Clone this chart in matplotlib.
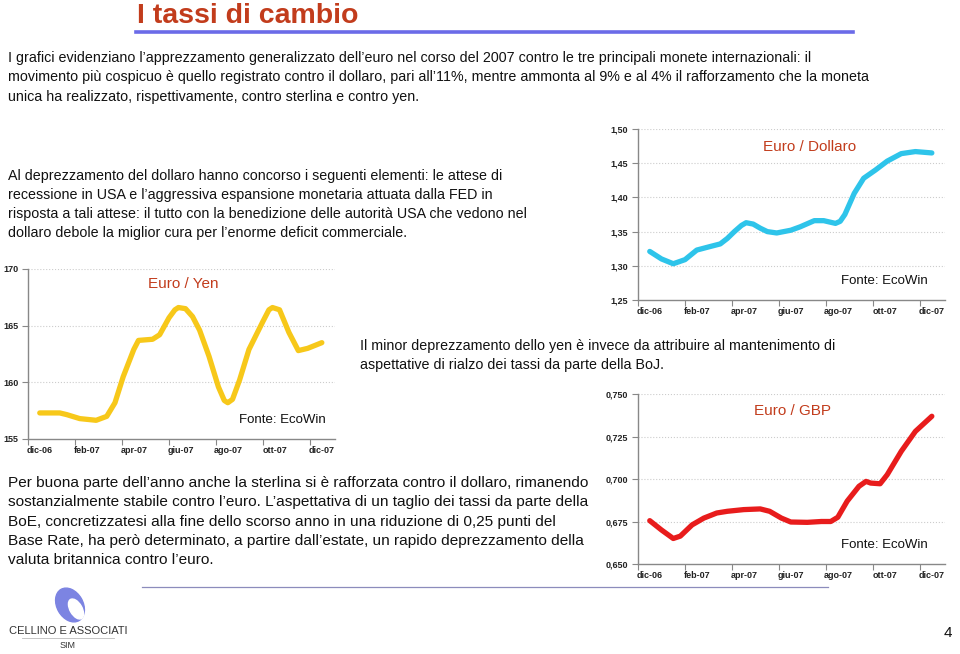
import matplotlib
matplotlib.use('Agg')
import matplotlib.pyplot as plt
from matplotlib.lines import Line2D
from matplotlib.patches import Ellipse

plt.rcParams['font.family'] = ['Liberation Sans', 'DejaVu Sans']

# month index: 0 = dic-06 ... 12 = dic-07
month_labels = ['dic-06', 'feb-07', 'apr-07', 'giu-07', 'ago-07', 'ott-07', 'dic-07']

usd_months = [0, 0.5, 1, 1.5, 2, 2.55, 3, 3.3, 3.6, 3.9, 4.1, 4.4, 4.7, 5, 5.4, 6, 6.4,
              7, 7.4, 7.9, 8.1, 8.3, 8.7, 9.1, 9.6, 10.1, 10.7, 11.3, 12]
usd_values = [1.321, 1.310, 1.303, 1.309, 1.323, 1.328, 1.332, 1.340, 1.350, 1.359,
              1.363, 1.361, 1.355, 1.350, 1.348, 1.352, 1.357, 1.366, 1.366, 1.362,
              1.365, 1.375, 1.406, 1.428, 1.440, 1.453, 1.464, 1.467, 1.465]

jpy_months = [0, 0.85, 1.15, 1.7, 2.4, 2.85, 3.2, 3.55, 4.0, 4.2, 4.8, 5.1, 5.5, 5.75,
              5.9, 6.2, 6.5, 6.8, 7.2, 7.6, 7.85, 8.0, 8.2, 8.5, 8.9, 9.5, 9.75, 9.9,
              10.2, 10.6, 11.0, 11.4, 12]
jpy_values = [157.3, 157.3, 157.15, 156.8, 156.65, 157.0, 158.2, 160.5, 162.9, 163.7,
              163.8, 164.2, 165.7, 166.4, 166.6, 166.5, 165.8, 164.6, 162.3, 159.6,
              158.4, 158.2, 158.5, 160.2, 162.9, 165.4, 166.4, 166.6, 166.4, 164.4,
              162.8, 163.0, 163.5]

gbp_months = [0, 0.5, 1.0, 1.3, 1.8, 2.3, 2.85, 3.3, 4.0, 4.7, 5.1, 5.6, 6.0, 6.7,
              7.3, 7.7, 8.0, 8.4, 8.9, 9.2, 9.4, 9.8, 10.1, 10.7, 11.3, 12]
gbp_values = [0.6755, 0.670, 0.665, 0.6664, 0.673, 0.677, 0.680, 0.681, 0.682, 0.6824,
              0.681, 0.677, 0.6747, 0.6745, 0.675, 0.675, 0.6775, 0.687, 0.6957, 0.6986,
              0.6976, 0.6972, 0.7025, 0.7163, 0.728, 0.7369]

usd_ticks = [1.25, 1.30, 1.35, 1.40, 1.45, 1.50]
jpy_ticks = [155, 160, 165, 170]
gbp_ticks = [0.650, 0.675, 0.700, 0.725, 0.750]

W, H = 960, 654
fig = plt.figure(figsize=(9.6, 6.54), dpi=100)


def fx(x):
    return x / W


def fy(y):
    return 1 - y / H


def px_axes(l, t, r, b):
    return fig.add_axes([fx(l), fy(b), (r - l) / W, (b - t) / H])


def small_chart(box, months, values, ticks, fmt, color, title, title_xy, fonte_xy):
    '''Draws one of the little EcoWin charts inside the pixel box given.'''
    ax = px_axes(*box)
    ax.plot(months, values, color=color, lw=3.8, solid_capstyle='round', solid_joinstyle='round')
    ax.set_xlim(-0.5, 12.56)
    ax.set_ylim(ticks[0], ticks[-1])
    ax.set_yticks(ticks)
    ax.set_yticklabels([fmt(t) for t in ticks], fontsize=6.5, fontweight='bold', color='#222222')
    ax.set_xticks([-0.5 + 2 * i for i in range(7)])
    ax.set_xticklabels([])
    ax.set_xticks([2 * i for i in range(7)], minor=True)
    ax.set_xticklabels(month_labels, minor=True, fontsize=6.5, fontweight='bold', color='#222222')
    ax.tick_params(axis='x', which='minor', length=0, pad=5)
    ax.tick_params(axis='x', which='major', length=4, color='#888888')
    ax.tick_params(axis='y', length=4, color='#888888', pad=3)
    for t in ticks[1:]:
        ax.axhline(t, color='#cccccc', lw=0.8, ls=':', zorder=0)
    for s in ['top', 'right']:
        ax.spines[s].set_visible(False)
    for s in ['left', 'bottom']:
        ax.spines[s].set_color('#888888')
        ax.spines[s].set_linewidth(1.0)
    fig.text(fx(title_xy[0]), fy(title_xy[1]), title, color='#c23c1c', fontsize=11,
             ha='center', va='center')
    fig.text(fx(fonte_xy[0]), fy(fonte_xy[1]), 'Fonte: EcoWin', color='#111111', fontsize=9.5,
             ha='center', va='center')
    return ax


def slide_text():
    '''Title, paragraphs, logo and page number.'''
    fig.text(fx(137), fy(16), 'I tassi di cambio', color='#c23c1c', fontsize=20.5,
             fontweight='bold', ha='left', va='center')
    fig.add_artist(Line2D([fx(136), fx(853)], [fy(32), fy(32)], color='#6b6be8', lw=2.6))
    fig.add_artist(Line2D([fx(142), fx(828)], [fy(587), fy(587)], color='#8c8cbc', lw=0.9))

    p1 = ['I grafici evidenziano l\u2019apprezzamento generalizzato dell\u2019euro nel corso del 2007 contro le tre principali monete internazionali: il',
          'movimento pi\u00f9 cospicuo \u00e8 quello registrato contro il dollaro, pari all\u201911%, mentre ammonta al 9% e al 4% il rafforzamento che la moneta',
          'unica ha realizzato, rispettivamente, contro sterlina e contro yen.']
    p2 = ['Al deprezzamento del dollaro hanno concorso i seguenti elementi: le attese di',
          'recessione in USA e l\u2019aggressiva espansione monetaria attuata dalla FED in',
          'risposta a tali attese: il tutto con la benedizione delle autorit\u00e0 USA che vedono nel',
          'dollaro debole la miglior cura per l\u2019enorme deficit commerciale.']
    p3 = ['Il minor deprezzamento dello yen \u00e8 invece da attribuire al mantenimento di',
          'aspettative di rialzo dei tassi da parte della BoJ.']
    p4 = ['Per buona parte dell\u2019anno anche la sterlina si \u00e8 rafforzata contro il dollaro, rimanendo',
          'sostanzialmente stabile contro l\u2019euro. L\u2019aspettativa di un taglio dei tassi da parte della',
          'BoE, concretizzatesi alla fine dello scorso anno in una riduzione di 0,25 punti del',
          'Base Rate, ha per\u00f2 determinato, a partire dall\u2019estate, un rapido deprezzamento della',
          'valuta britannica contro l\u2019euro.']
    for lines, x, y0, step, size in [(p1, 8, 58, 19.5, 10.3), (p2, 8, 176, 19, 10.3),
                                     (p3, 360, 346, 19, 10.3), (p4, 8, 483, 19.3, 11.05)]:
        for i, line in enumerate(lines):
            fig.text(fx(x), fy(y0 + i * step), line, fontsize=size, color='#111111',
                     ha='left', va='center')

    # logo
    logo = fig.add_axes([0, 0, 1, 1], zorder=-1)
    logo.set_xlim(0, W)
    logo.set_ylim(H, 0)
    logo.axis('off')
    logo.add_patch(Ellipse((70, 605), 26, 36, angle=-30, color='#7c84e2'))
    logo.add_patch(Ellipse((76, 609), 12, 22, angle=-30, color='white'))
    fig.text(fx(68), fy(631), 'CELLINO E ASSOCIATI', fontsize=8, color='#333333',
             ha='center', va='center')
    fig.add_artist(Line2D([fx(22), fx(114)], [fy(638), fy(638)], color='#bbbbbb', lw=0.6))
    fig.text(fx(68), fy(645), 'SIM', fontsize=6.5, color='#333333', ha='center', va='center')
    fig.text(fx(948), fy(633), '4', fontsize=11, color='#111111', ha='center', va='center')


def main():
    small_chart((638, 129, 945, 300), usd_months, usd_values, usd_ticks,
                lambda v: ('%.2f' % v).replace('.', ','), '#2ec4ea',
                'Euro / Dollaro', (810, 147), (884, 281))
    small_chart((28, 269, 335, 439), jpy_months, jpy_values, jpy_ticks,
                lambda v: '%d' % v, '#f7c81a',
                'Euro / Yen', (183, 284), (282, 420))
    small_chart((638, 394, 945, 564), gbp_months, gbp_values, gbp_ticks,
                lambda v: ('%.3f' % v).replace('.', ','), '#e81c1c',
                'Euro / GBP', (792, 411), (884, 545))
    slide_text()
    fig.savefig('out.png', dpi=100)


if __name__ == '__main__':
    main()
